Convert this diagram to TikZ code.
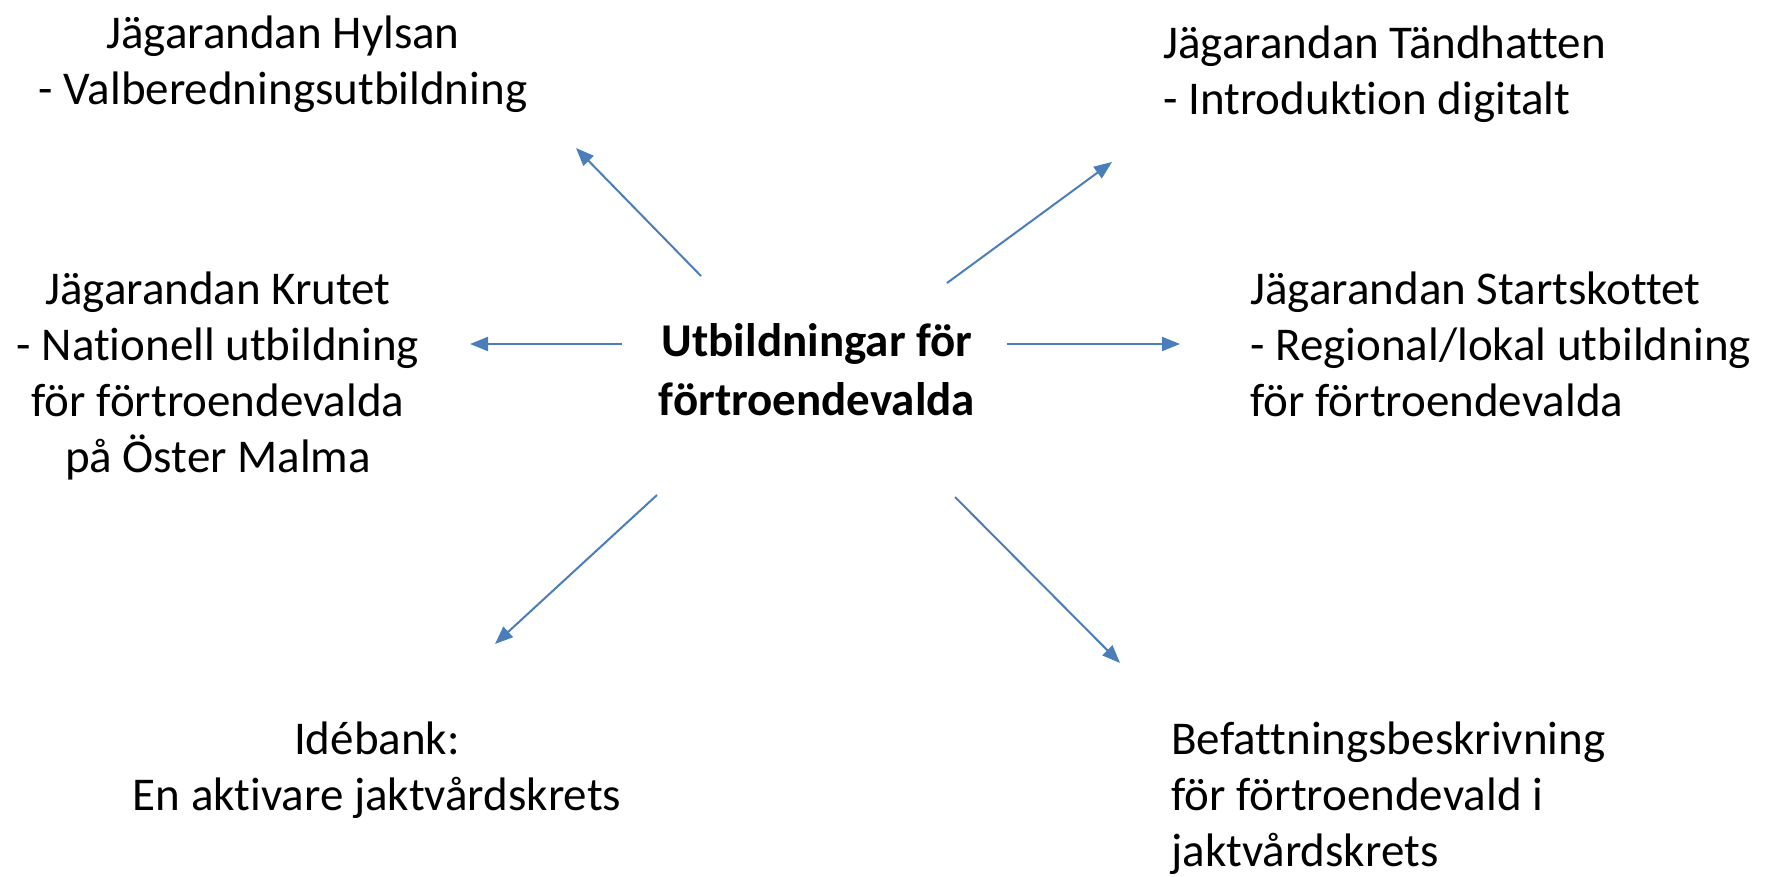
\documentclass[tikz,border=0pt]{standalone}
\usepackage{fontspec}
\setmainfont{Carlito}[Ligatures={NoCommon,NoContextual}]
\usetikzlibrary{arrows.meta}
\definecolor{arrowblue}{HTML}{4A7EBB}
\tikzset{
  lbl/.style={inner sep=0pt, font=\fontsize{23.5}{28}\selectfont},
  ctr/.style={lbl, align=center, anchor=north},
  lft/.style={lbl, align=left, anchor=north west},
  hub/.style={inner sep=0pt, align=center, anchor=north, font=\fontsize{23.5}{29.5}\selectfont\bfseries},
  conn/.style={draw=arrowblue, line width=1pt, -{Triangle[length=9pt,width=7pt]}}
}
\begin{document}
\begin{tikzpicture}[x=0.5pt,y=-0.5pt]
\useasboundingbox (0,0) rectangle (1767,877);
\node[hub] (hub) at (817,315) {\strut Utbildningar för\\förtroendevalda};
\node[ctr] (hylsan) at (283,9) {\strut Jägarandan Hylsan\\- Valberedningsutbildning};
\node[ctr] (krutet) at (218,265) {\strut Jägarandan Krutet\\- Nationell utbildning\\för förtroendevalda\\på Öster Malma};
\node[lft] (tand) at (1163,19) {\strut Jägarandan Tändhatten\\- Introduktion digitalt};
\node[lft] (start) at (1250,265) {\strut Jägarandan Startskottet\\- Regional/lokal utbildning\\för förtroendevalda};
\node[ctr] (ide) at (377,715) {\strut Idébank:\\En aktivare jaktvårdskrets};
\node[lft] (befatt) at (1171,715) {\strut Befattningsbeskrivning\\för förtroendevald i\\jaktvårdskrets};
\coordinate (s1) at (701,276); \coordinate (e1) at (576,148);
\coordinate (s2) at (947,283); \coordinate (e2) at (1112,162);
\coordinate (s3) at (622,344); \coordinate (e3) at (470,344);
\coordinate (s4) at (1007,344); \coordinate (e4) at (1180,344);
\coordinate (s5) at (657,495); \coordinate (e5) at (495,644);
\coordinate (s6) at (955,497); \coordinate (e6) at (1120,663);
\draw[conn] (s1) -- (e1);
\draw[conn] (s2) -- (e2);
\draw[conn] (s3) -- (e3);
\draw[conn] (s4) -- (e4);
\draw[conn] (s5) -- (e5);
\draw[conn] (s6) -- (e6);
\end{tikzpicture}
\end{document}
